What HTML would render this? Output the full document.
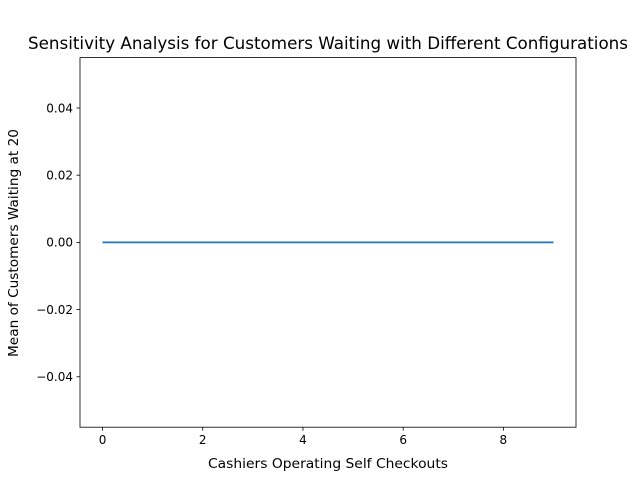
<!DOCTYPE html>
<html><head><meta charset="utf-8"><style>
body{margin:0;background:#fff;}
svg{display:block;font-family:"DejaVu Sans","Liberation Sans",sans-serif;}
</style></head><body>
<svg id="chart" width="640" height="480" xmlns="http://www.w3.org/2000/svg">
<rect width="640" height="480" fill="#fff"/>
<text x="328" y="49" font-size="16.4" text-anchor="middle" textLength="600" lengthAdjust="spacingAndGlyphs">Sensitivity Analysis for Customers Waiting with Different Configurations</text>
<text x="328" y="468" font-size="13.7" text-anchor="middle" textLength="240" lengthAdjust="spacingAndGlyphs">Cashiers Operating Self Checkouts</text>
<text transform="translate(18,243) rotate(-90)" font-size="13.7" text-anchor="middle" textLength="228" lengthAdjust="spacingAndGlyphs">Mean of Customers Waiting at 20</text>
<g id="ticks"></g>
<polyline id="line" fill="none" stroke="#1f77b4" stroke-width="1.7"/>
<rect x="80" y="57.6" width="496" height="369.6" fill="none" stroke="#000" stroke-width="0.8"/>
</svg>
<script>
const xValues=[0,1,2,3,4,5,6,7,8,9];
const yValues=[0,0,0,0,0,0,0,0,0,0];
const xTicks=[0,2,4,6,8];
const yTicks=[-0.04,-0.02,0.00,0.02,0.04];
const yTickLabels=["\u22120.04","\u22120.02","0.00","0.02","0.04"];
const L=80,R=576,T=57.6,B=427.2;
const xMin=-0.45,xMax=9.45,yMin=-0.055,yMax=0.055;
const sx=v=>L+(v-xMin)/(xMax-xMin)*(R-L);
const sy=v=>B-(v-yMin)/(yMax-yMin)*(B-T);
const NS="http://www.w3.org/2000/svg";
const g=document.getElementById('ticks');
function mk(tag,attrs){const e=document.createElementNS(NS,tag);for(const k in attrs)e.setAttribute(k,attrs[k]);return e;}
xTicks.forEach(t=>{
  const l=mk('line',{x1:sx(t),x2:sx(t),y1:B,y2:B+3.5,stroke:'#000','stroke-width':0.8});
  
  
  g.appendChild(l);
  const tx=mk('text',{x:sx(t),y:B+17,'font-size':12,'text-anchor':'middle'});
  tx.textContent=String(t);
  
  
  g.appendChild(tx);
});
yTicks.forEach((t,i)=>{
  const l=mk('line',{x1:L-3.5,x2:L,y1:sy(t),y2:sy(t),stroke:'#000','stroke-width':0.8});
  
  
  g.appendChild(l);
  const tx=mk('text',{x:L-7,y:sy(t)+4.3,'font-size':12,'text-anchor':'end'});
  tx.textContent=yTickLabels[i];
  
  
  g.appendChild(tx);
});
document.getElementById('line').setAttribute('points',xValues.map((x,i)=>sx(x)+','+sy(yValues[i])).join(' '));
</script>
</body></html>
